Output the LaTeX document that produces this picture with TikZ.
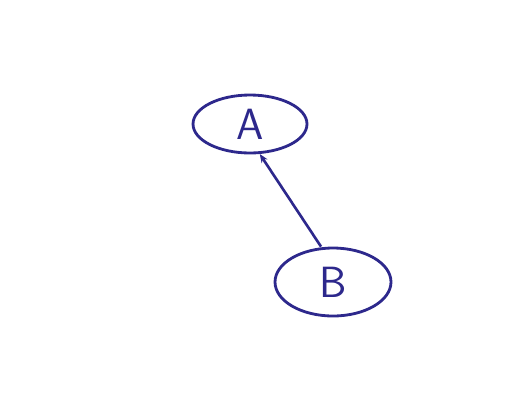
\documentclass[tikz,border=0pt]{standalone}
\usepackage{tikz}
\usetikzlibrary{arrows,arrows.meta,shapes,positioning}
\definecolor{ink}{RGB}{45,40,140}

\begin{document}
\begin{tikzpicture}[x=0.02cm,y=-0.02cm,
  vertex/.style={ellipse,draw=ink,line width=1.6pt,text=ink,font=\Huge\sffamily,
    minimum width=2.28cm,inner sep=0pt},
  edge/.style={draw=ink,line width=1.5pt,-{Stealth[length=5pt,width=4pt]}}]
  \useasboundingbox[fill=white] (0,0) rectangle (516,403) ; %Page
  \node[vertex,minimum height=1.16cm] (A) at (250,124) {A} ;   %Upper node
  \node[vertex,minimum height=1.36cm,minimum width=2.32cm] (B) at (333,282) {B} ; %Lower node
  \coordinate (b) at ([xshift=-0.24cm]B.north) ; %Start of edge
  \path[edge] (b) -- (A.-72) ;                   %Edge from B to A
\end{tikzpicture}
\end{document}
